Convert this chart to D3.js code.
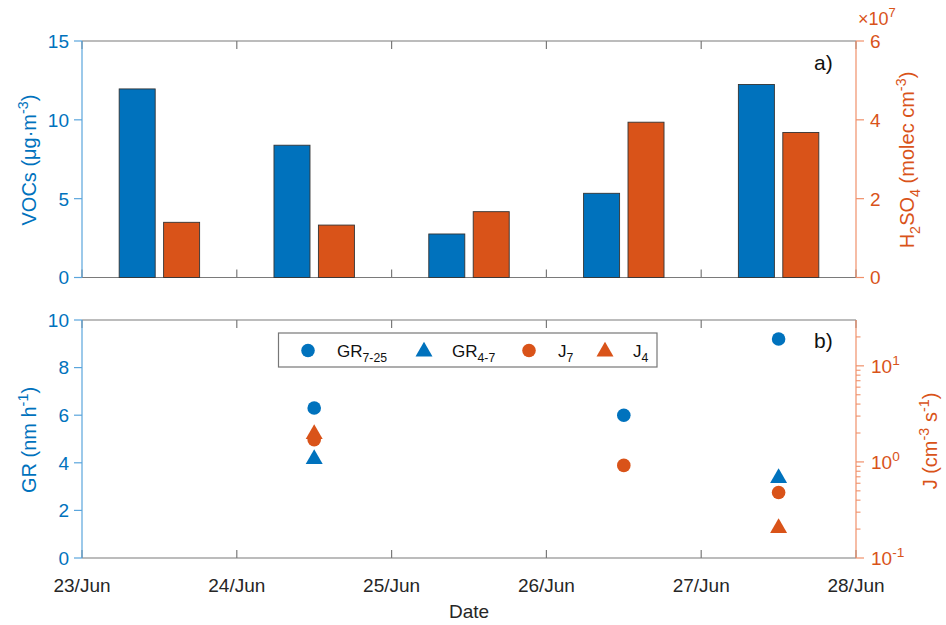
<!DOCTYPE html>
<html><head><meta charset="utf-8">
<script src="https://cdn.jsdelivr.net/npm/d3@7"></script>
<style>body{margin:0;background:#fff}svg{display:block}text{font-family:"Liberation Sans",Arial,sans-serif}</style>
</head><body><svg id="c" width="946" height="625"></svg>
<script>
// ---- data ----
const barDates = ["2019-06-23T12:00Z","2019-06-24T12:00Z","2019-06-25T12:00Z","2019-06-26T12:00Z","2019-06-27T12:00Z"];
const vocs = [11.96, 8.39, 2.76, 5.34, 12.24];
const h2so4 = [1.40e7, 1.33e7, 1.67e7, 3.94e7, 3.68e7];
const ptDates = ["2019-06-24T12:00Z","2019-06-26T12:00Z","2019-06-27T12:00Z"];
const gr725 = [6.3, 6.0, 9.2];
const gr47 = [4.2, null, 3.4];
const j7 = [1.7, 0.92, 0.48];
const j4 = [2.0, null, 0.21];
const xTickLabels = ["23/Jun","24/Jun","25/Jun","26/Jun","27/Jun","28/Jun"];
const vocTicks = [0,5,10,15];
const h2Ticks = [0,2,4,6];
const grTicks = [0,2,4,6,8,10];
const jMajor = [0.1,1,10];
const jMinor = [0.2,0.3,0.4,0.5,0.6,0.7,0.8,0.9,2,3,4,5,6,7,8,9,20];

const BLUE="#0072BD", ORANGE="#D95319", BLUEAX="#5aa5dc", ORAX="#f0906a", GRAY="#7a7a7a";
const svg=d3.select("#c");
const DAY=86400000;
const X0=82, X1=856;
const x=d3.scaleUtc().domain([new Date(Date.UTC(2019,5,23)),new Date(Date.UTC(2019,5,28))]).range([X0,X1]);
const T0=41, T1=277.5, B0=320, B1=558;
const yV=d3.scaleLinear().domain([0,15]).range([T1,T0]);
const yH=d3.scaleLinear().domain([0,6e7]).range([T1,T0]);
const yG=d3.scaleLinear().domain([0,10]).range([B1,B0]);
const yJ=d3.scaleLog().domain([0.1,30]).range([B1,B0]);
const xTicks=d3.range(6).map(i=>new Date(Date.UTC(2019,5,23+i)));

function rich(t, parts, fs){
  let shift=0;
  parts.forEach(([s,k])=>{
    const target = k==="sup"? -0.42*fs : k==="sub"? 0.3*fs : 0;
    t.append("tspan").attr("dy",target-shift).attr("font-size",k==="n"?fs:fs*0.72).text(s);
    shift=target;
  });
}

// ---- panel frames ----
function frame(y0,y1){
  const g=svg.append("g");
  g.append("line").attr("x1",X0).attr("x2",X1).attr("y1",y0).attr("y2",y0).attr("stroke",GRAY).attr("stroke-width",1.2);
  g.append("line").attr("x1",X0).attr("x2",X1).attr("y1",y1).attr("y2",y1).attr("stroke",GRAY).attr("stroke-width",1.2);
  xTicks.forEach(d=>{
    g.append("line").attr("x1",x(d)).attr("x2",x(d)).attr("y1",y1).attr("y2",y1-8).attr("stroke",GRAY).attr("stroke-width",1.2);
    g.append("line").attr("x1",x(d)).attr("x2",x(d)).attr("y1",y0).attr("y2",y0+8).attr("stroke",GRAY).attr("stroke-width",1.2);
  });
}
frame(T0,T1); frame(B0,B1);

// ---- bars ----
const bw = x(new Date(Date.UTC(2019,5,23)+0.2326*DAY))-x(new Date(Date.UTC(2019,5,23)));
const off = 0.1435*DAY;
barDates.forEach((s,i)=>{
  const d=new Date(s).getTime();
  svg.append("rect").attr("x",x(new Date(d-off))-bw/2).attr("width",bw)
    .attr("y",yV(vocs[i])).attr("height",yV(0)-yV(vocs[i]))
    .attr("fill",BLUE).attr("stroke","#333").attr("stroke-width",0.9);
  svg.append("rect").attr("x",x(new Date(d+off))-bw/2).attr("width",bw)
    .attr("y",yH(h2so4[i])).attr("height",yH(0)-yH(h2so4[i]))
    .attr("fill",ORANGE).attr("stroke","#333").attr("stroke-width",0.9);
});

// ---- y axes ----
function leftAxis(scale,ticks,y0,y1){
  const g=svg.append("g");
  g.append("line").attr("x1",X0).attr("x2",X0).attr("y1",y0).attr("y2",y1).attr("stroke",BLUEAX).attr("stroke-width",1.2);
  ticks.forEach(v=>{
    g.append("line").attr("x1",X0-8).attr("x2",X0).attr("y1",scale(v)).attr("y2",scale(v)).attr("stroke",BLUEAX).attr("stroke-width",1.2);
    g.append("text").attr("x",X0-13).attr("y",scale(v)).attr("dy","0.36em").attr("text-anchor","end")
      .attr("font-size",19).attr("fill",BLUE).text(v);
  });
}
leftAxis(yV,vocTicks,T0,T1);
leftAxis(yG,grTicks,B0,B1);

// right H2SO4 axis
(function(){
  const g=svg.append("g");
  g.append("line").attr("x1",X1).attr("x2",X1).attr("y1",T0).attr("y2",T1).attr("stroke",ORAX).attr("stroke-width",1.2);
  h2Ticks.forEach(v=>{
    const y=yH(v*1e7);
    g.append("line").attr("x1",X1).attr("x2",X1+8).attr("y1",y).attr("y2",y).attr("stroke",ORAX).attr("stroke-width",1.2);
    g.append("text").attr("x",X1+14).attr("y",y).attr("dy","0.36em").attr("font-size",19).attr("fill",ORANGE).text(v);
  });
  const t=g.append("text").attr("x",X1+2).attr("y",25).attr("fill",ORANGE).attr("font-size",18);
  rich(t,[["×10","n"],["7","sup"]],18);
})();

// right J log axis
(function(){
  const g=svg.append("g");
  g.append("line").attr("x1",X1).attr("x2",X1).attr("y1",B0).attr("y2",B1).attr("stroke",ORAX).attr("stroke-width",1.2);
  jMinor.forEach(v=>{
    g.append("line").attr("x1",X1).attr("x2",X1+4.5).attr("y1",yJ(v)).attr("y2",yJ(v)).attr("stroke",ORAX).attr("stroke-width",1.1);
  });
  jMajor.forEach(v=>{
    const y=yJ(v);
    g.append("line").attr("x1",X1).attr("x2",X1+8).attr("y1",y).attr("y2",y).attr("stroke",ORAX).attr("stroke-width",1.2);
    const t=g.append("text").attr("x",X1+15).attr("y",y+7).attr("font-size",19).attr("fill",ORANGE);
    rich(t,[["10","n"],[String(Math.round(Math.log10(v))),"sup"]],19);
  });
})();

// x tick labels
xTicks.forEach((d,i)=>{
  svg.append("text").attr("x",x(d)).attr("y",592).attr("text-anchor","middle").attr("font-size",19).attr("fill","#262626").text(xTickLabels[i]);
});
svg.append("text").attr("x",(X0+X1)/2).attr("y",618).attr("text-anchor","middle").attr("font-size",19).attr("fill","#262626").text("Date");

// axis titles
function vlabel(xc,yc,parts,color){
  const t=svg.append("text").attr("transform",`translate(${xc},${yc}) rotate(-90)`).attr("text-anchor","middle")
    .attr("font-size",20).attr("fill",color);
  rich(t,parts,20);
}
vlabel(36,160,[["VOCs (μg·m","n"],["-3","sup"],[")","n"]],BLUE);
vlabel(36,440,[["GR (nm h","n"],["-1","sup"],[")","n"]],BLUE);
vlabel(914,160,[["H","n"],["2","sub"],["SO","n"],["4","sub"],[" (molec cm","n"],["-3","sup"],[")","n"]],ORANGE);
vlabel(937,441,[["J (cm","n"],["-3","sup"],[" s","n"],["-1","sup"],[")","n"]],ORANGE);

// panel letters
svg.append("text").attr("x",814).attr("y",70).attr("font-family","'Liberation Serif','Times New Roman',serif").attr("font-size",21).attr("fill","#111").text("a)");
svg.append("text").attr("x",814).attr("y",348).attr("font-family","'Liberation Serif','Times New Roman',serif").attr("font-size",21).attr("fill","#111").text("b)");

// ---- markers ----
const tri=d3.symbol().type(d3.symbolTriangle).size(125);
ptDates.forEach((s,i)=>{
  const px=x(new Date(s));
  if(gr47[i]!=null) svg.append("path").attr("d",tri).attr("transform",`translate(${px},${yG(gr47[i])+1})`).attr("fill",BLUE);
  svg.append("circle").attr("cx",px).attr("cy",yG(gr725[i])).attr("r",6.8).attr("fill",BLUE);
  if(j4[i]!=null) svg.append("path").attr("d",tri).attr("transform",`translate(${px},${yJ(j4[i])+1})`).attr("fill",ORANGE);
  svg.append("circle").attr("cx",px).attr("cy",yJ(j7[i])).attr("r",6.8).attr("fill",ORANGE);
});

// ---- legend ----
(function(){
  const g=svg.append("g");
  g.append("rect").attr("x",278.5).attr("y",333).attr("width",378.5).attr("height",34).attr("fill","#fff").attr("stroke","#777").attr("stroke-width",1.2);
  const cy=350.5;
  g.append("circle").attr("cx",308).attr("cy",cy).attr("r",6.8).attr("fill",BLUE);
  g.append("path").attr("d",tri).attr("transform",`translate(424,${cy+1})`).attr("fill",BLUE);
  g.append("circle").attr("cx",529).attr("cy",cy).attr("r",6.8).attr("fill",ORANGE);
  g.append("path").attr("d",tri).attr("transform",`translate(605,${cy+1})`).attr("fill",ORANGE);
  const lab=(xx,parts)=>{const t=g.append("text").attr("x",xx).attr("y",cy+6).attr("font-size",17).attr("fill","#111");rich(t,parts,17);};
  lab(337,[["GR","n"],["7-25","sub"]]);
  lab(452,[["GR","n"],["4-7","sub"]]);
  lab(558,[["J","n"],["7","sub"]]);
  lab(633,[["J","n"],["4","sub"]]);
})();
</script></body></html>
